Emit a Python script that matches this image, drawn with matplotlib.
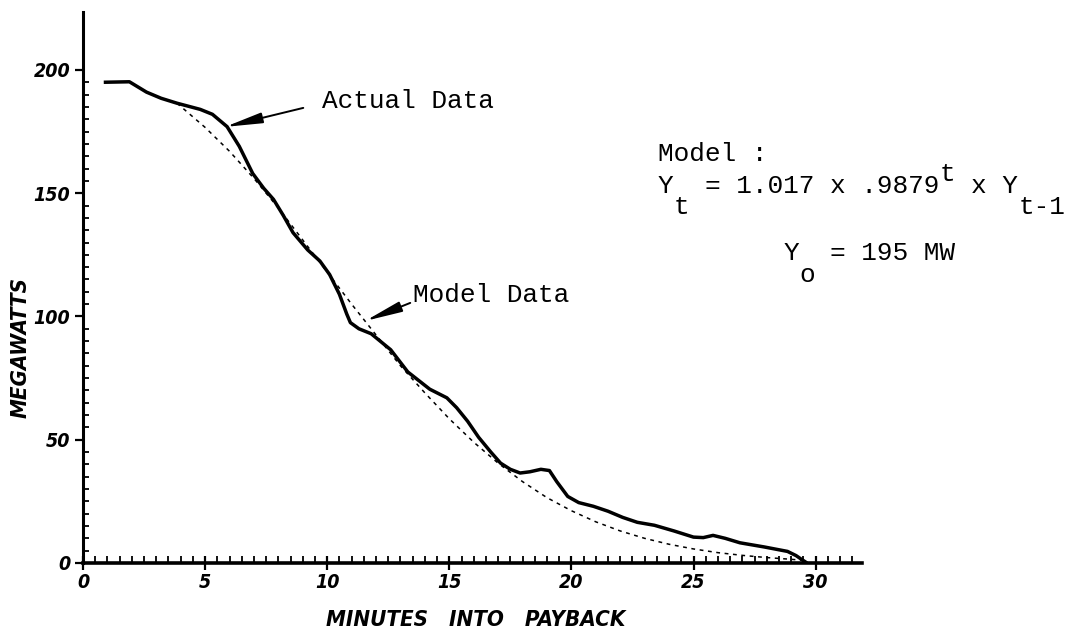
import matplotlib
matplotlib.use("Agg")
import matplotlib.pyplot as plt
from matplotlib.ticker import MultipleLocator, FixedLocator

# ---- data: load decay during payback ----
actual_min = [0.85, 1.9, 2.6, 3.2, 3.85, 4.8, 5.3, 5.9, 6.4, 6.95, 7.4, 7.8, 8.2,
              8.6, 9.2, 9.7, 10.1, 10.5, 10.8, 10.95, 11.3, 11.8, 12.6, 13.3,
              14.2, 14.9, 15.3, 15.75, 16.2, 16.7, 17.1, 17.5, 17.9, 18.3,
              18.75, 19.1, 19.4, 19.85, 20.3, 20.9, 21.5, 22.1, 22.7, 23.4,
              24.2, 25.0, 25.4, 25.8, 26.3, 26.9, 27.9, 28.85, 29.2, 29.45, 29.65]
actual_mw = [195, 195.2, 191, 188.5, 186.5, 184, 182, 177, 169, 158, 152, 147.5,
             141, 134, 127, 122.5, 117, 109, 101, 97.5, 95, 93, 86.5, 77.5,
             70.5, 67, 63, 57.5, 51, 45, 40.5, 38, 36.5, 37, 38, 37.5, 33, 27,
             24.5, 23, 21, 18.5, 16.5, 15.3, 13, 10.5, 10.3, 11.2, 10, 8.2,
             6.5, 4.7, 3, 1.3, 0]

model_min = [3.85, 5, 6, 7, 8, 9, 10, 11, 12, 13, 14, 15, 16, 17, 18, 19, 20,
             21, 22, 23, 24, 25, 26, 27, 28, 29, 29.6]
model_mw = [186.5, 176.7, 167, 156, 144, 131, 118, 105, 92.5, 80, 69, 58.5, 49,
            40.5, 33, 26.5, 21.2, 16.7, 13, 10, 7.6, 5.7, 4.2, 3.1, 2.2, 1.5, 1.0]

x_ticks = [0, 5, 10, 15, 20, 25, 30]
y_ticks = [0, 50, 100, 150, 200]

W, H = 1086, 629


def fx(px):
    return px / W


def fy(py):
    return 1 - py / H


hand = dict(family="DejaVu Sans", style="italic", stretch="condensed", weight="bold")
mono = "Liberation Mono"
mono_size = 18.8
pitch = mono_size / 72 * 100 * 0.6      # advance of one typewriter cell, px

fig = plt.figure(figsize=(W / 100, H / 100), dpi=100)
ax = fig.add_axes([fx(83), fy(563), fx(862) - fx(83), fy(12) - fy(563)])

ax.plot(model_min, model_mw, color="black", lw=1.1, linestyle=(0, (2.5, 3)))
ax.plot(actual_min, actual_mw, color="black", lw=2.5,
        solid_joinstyle="round", solid_capstyle="butt")

ax.set_xlim(0, 31.9)
ax.set_ylim(0, 223.5)

for side in ("top", "right"):
    ax.spines[side].set_visible(False)
ax.spines["left"].set_linewidth(2.2)
ax.spines["bottom"].set_linewidth(2.6)

ax.xaxis.set_major_locator(FixedLocator(x_ticks))
ax.xaxis.set_minor_locator(MultipleLocator(0.5))
ax.yaxis.set_major_locator(FixedLocator(y_ticks))
ax.yaxis.set_minor_locator(FixedLocator(list(range(0, 201, 5))))

ax.tick_params(axis="x", which="major", direction="inout", length=10, width=1.6, pad=2)
ax.tick_params(axis="x", which="minor", direction="in", length=5, width=1.3)
ax.tick_params(axis="y", which="major", direction="out", length=6, width=1.6, pad=3)
ax.tick_params(axis="y", which="minor", direction="in", length=4, width=1.3)

ax.set_xticklabels([str(t) for t in x_ticks])
ax.set_yticklabels([str(t) for t in y_ticks])
for lab in ax.get_xticklabels() + ax.get_yticklabels():
    lab.set_family(hand["family"])
    lab.set_style("italic")
    lab.set_stretch("condensed")
    lab.set_weight("bold")
    lab.set_fontsize(14)

fig.text(fx(476), fy(626), "MINUTES   INTO   PAYBACK", fontsize=16,
         ha="center", va="baseline", **hand)
fig.text(fx(21), fy(347), "MEGAWATTS", fontsize=16, rotation=90,
         ha="center", va="center", **hand)

# labelled arrows
arrow = dict(arrowstyle="-|>,head_length=1.4,head_width=0.2", color="black",
             lw=1.4, shrinkA=0, shrinkB=0, mutation_scale=16)
ax.annotate("", xy=(5.82, 176.9), xytext=(9.02, 184.6), arrowprops=arrow)
ax.annotate("", xy=(11.56, 98.2), xytext=(13.4, 105.5), arrowprops=arrow)
ax.text(9.8, 184.5, "Actual Data", family=mono, fontsize=mono_size, va="baseline")
ax.text(13.52, 105.8, "Model Data", family=mono, fontsize=mono_size, va="baseline")

# model equation block, laid out on a typewriter grid
# (text, cell index, baseline shift in px: + is lower)
x0 = 658
rows = [
    (161, [("Model :", 0, 0)]),
    (193, [("Y", 0, 0), ("t", 1, 21), ("= 1.017 x .9879", 3, 0), ("t", 18, -12),
           ("x Y", 20, 0), ("t-1", 23, 21)]),
    (260, [("Y", 8, 0), ("o", 9, 22), ("= 195 MW", 11, 0)]),
]
for base, pieces in rows:
    for s, cell, shift in pieces:
        fig.text(fx(x0 + cell * pitch), fy(base + shift), s, family=mono,
                 fontsize=mono_size, ha="left", va="baseline")

fig.savefig("out.png", dpi=100)
